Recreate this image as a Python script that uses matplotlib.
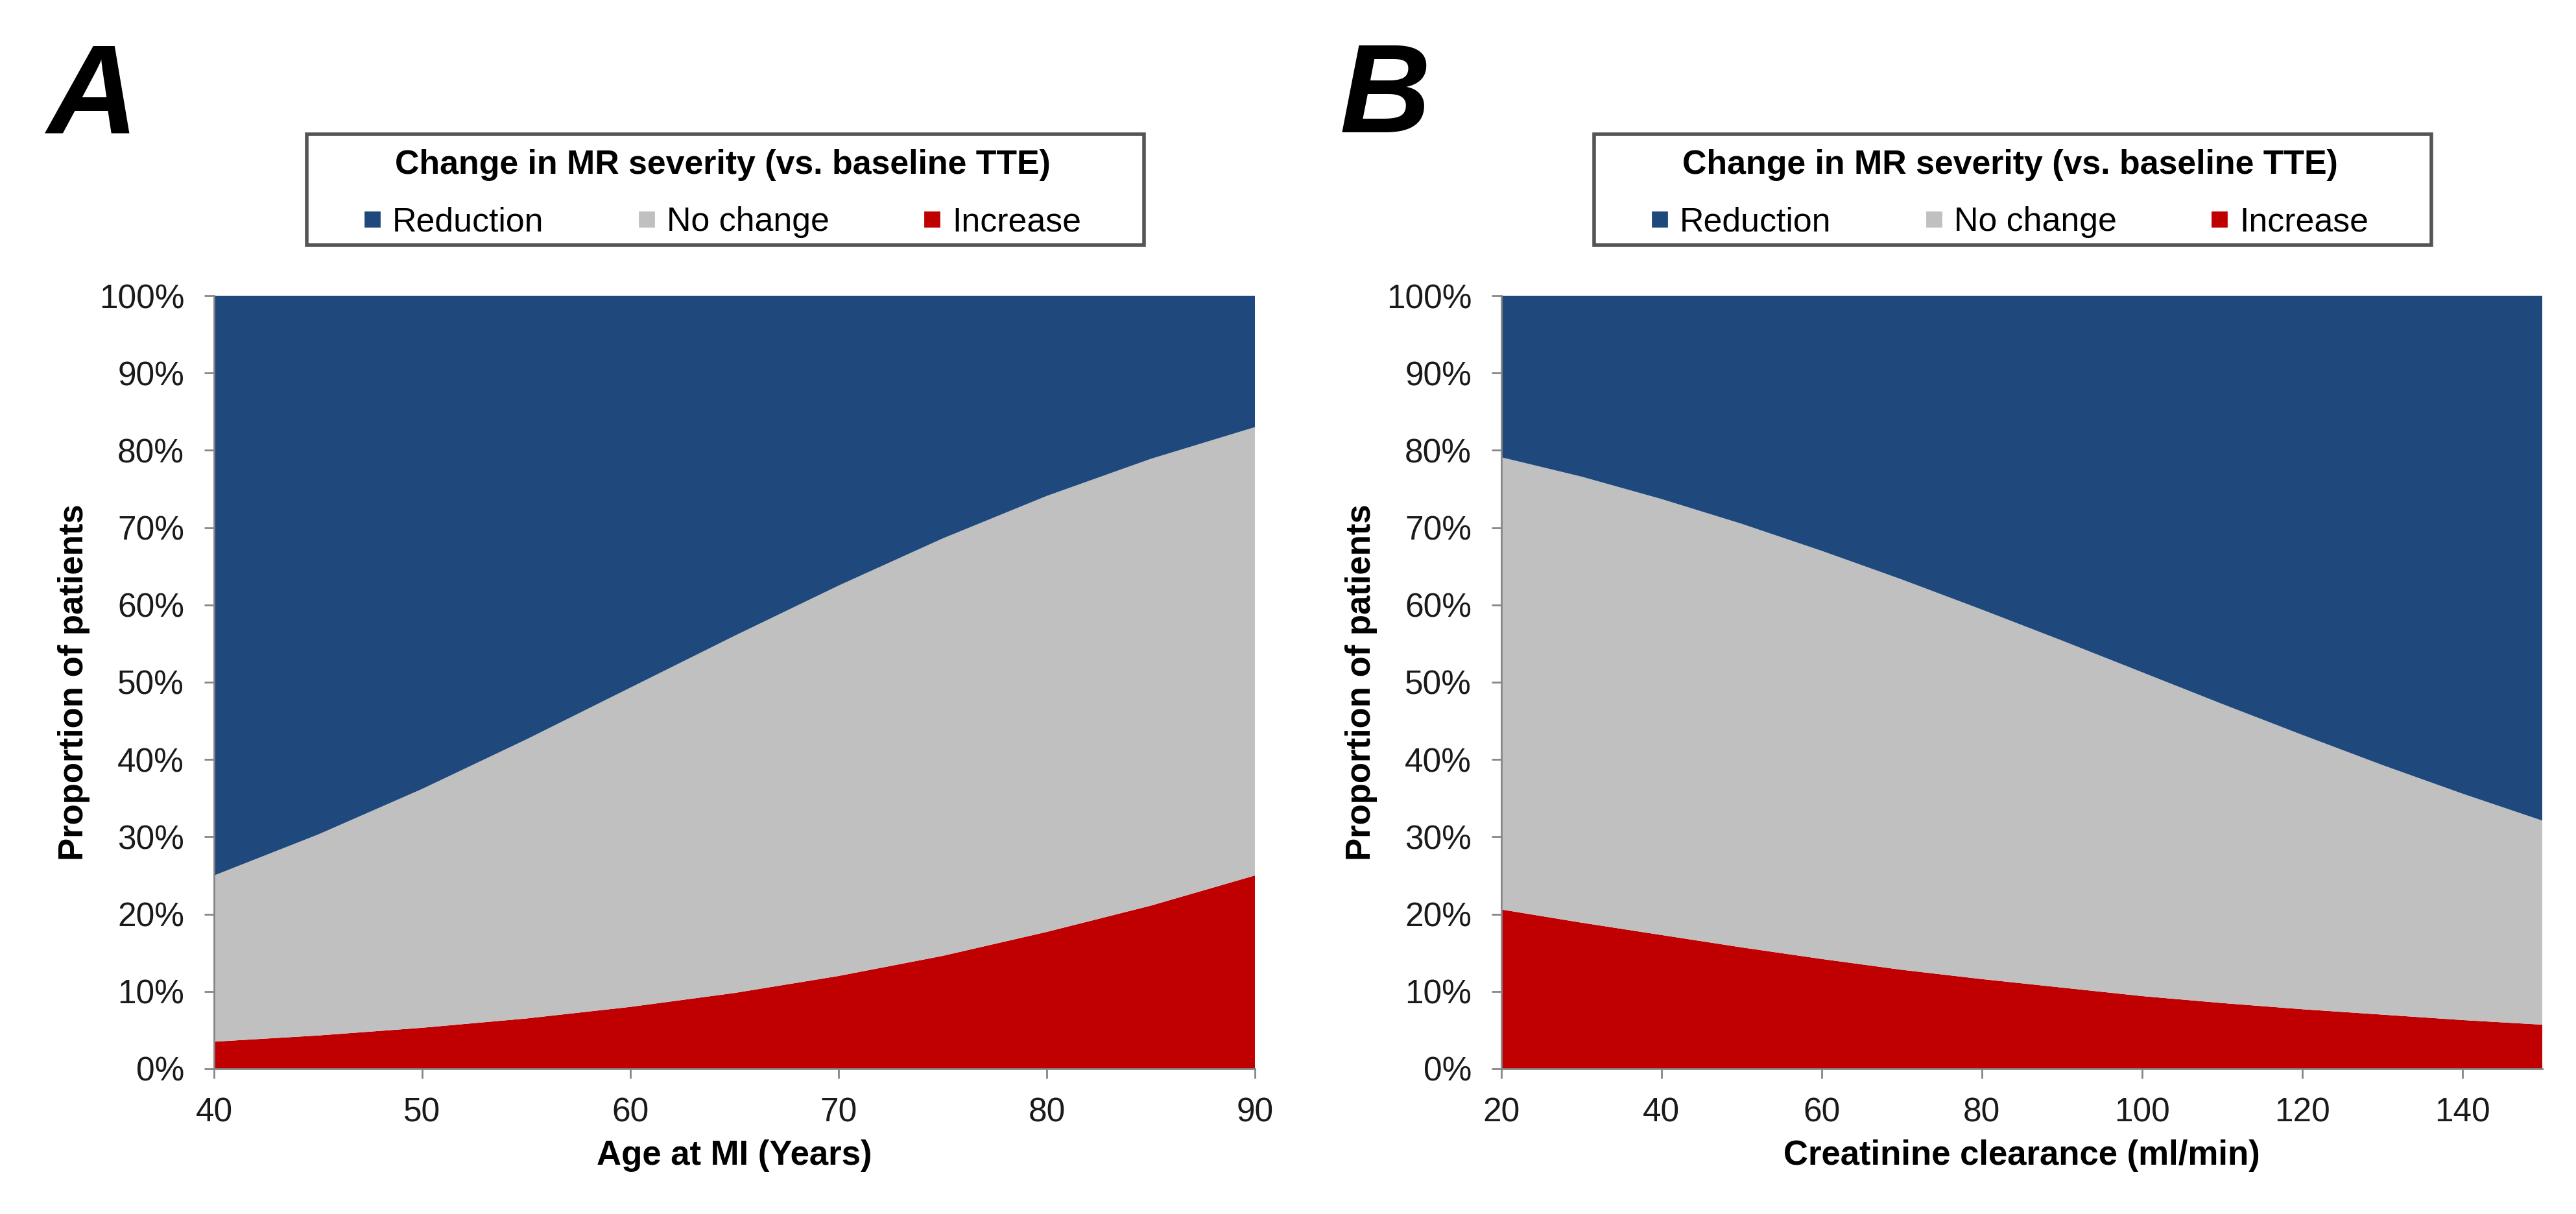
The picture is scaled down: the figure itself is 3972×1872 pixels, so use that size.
import numpy as np
import matplotlib
matplotlib.use('Agg')
import matplotlib.pyplot as plt
from matplotlib.lines import Line2D
from matplotlib.patches import Rectangle
from matplotlib.ticker import FuncFormatter

plt.rcParams['font.family'] = ['Liberation Sans', 'DejaVu Sans']

# Panel A: age at MI (years) vs proportion of patients (%)
age = [40, 45, 50, 55, 60, 65, 70, 75, 80, 85, 90]
increase_a = [3.5, 4.3, 5.3, 6.5, 8.0, 9.8, 12.0, 14.6, 17.7, 21.1, 25.0]
nochange_a = [21.5, 26.0, 30.9, 36.1, 41.3, 46.2, 50.5, 54.0, 56.4, 57.8, 58.0]
reduction_a = [75.0, 69.7, 63.8, 57.4, 50.7, 44.0, 37.5, 31.4, 25.9, 21.1, 17.0]

# Panel B: creatinine clearance (ml/min) vs proportion of patients (%)
crcl = [20, 30, 40, 50, 60, 70, 80, 90, 100, 110, 120, 130, 140, 150]
increase_b = [20.6, 18.9, 17.3, 15.7, 14.2, 12.8, 11.6, 10.5, 9.4, 8.5, 7.7, 7.0, 6.3, 5.7]
nochange_b = [58.5, 57.7, 56.4, 54.8, 52.8, 50.5, 47.8, 44.9, 41.9, 38.7, 35.5, 32.3, 29.3, 26.4]
reduction_b = [20.9, 23.4, 26.3, 29.5, 33.0, 36.7, 40.6, 44.6, 48.7, 52.8, 56.8, 60.7, 64.4, 67.9]

xticks_a = [40, 50, 60, 70, 80, 90]
xticks_b = [20, 40, 60, 80, 100, 120, 140]
yticks = [0, 10, 20, 30, 40, 50, 60, 70, 80, 90, 100]

labels = ['Reduction', 'No change', 'Increase']
colors = {'Reduction': '#1F497D', 'No change': '#C0C0C0', 'Increase': '#C00000'}
legend_title = 'Change in MR severity (vs. baseline TTE)'

fig = plt.figure(figsize=(19.86, 9.36), dpi=200)
ax_a = fig.add_axes([0.08308, 0.11966, 0.40408, 0.63675])
ax_b = fig.add_axes([0.58283, 0.11966, 0.40408, 0.63675])


def draw_panel(ax, x, inc, noch, red, xticks, xlabel, letter, letter_x):
    ax.stackplot(x, inc, noch, red,
                 colors=[colors['Increase'], colors['No change'], colors['Reduction']],
                 linewidth=0)
    ax.set_xlim(x[0], x[-1])
    ax.set_ylim(0, 100)
    ax.set_xticks(xticks)
    ax.set_yticks(yticks)
    ax.yaxis.set_major_formatter(FuncFormatter(lambda v, p: f'{v:.0f}%'))
    for s in ['top', 'right']:
        ax.spines[s].set_visible(False)
    for s in ['left', 'bottom']:
        ax.spines[s].set_color('#868686')
        ax.spines[s].set_linewidth(1.0)
    ax.tick_params(axis='both', direction='out', length=5.5, width=1.0,
                   color='#868686', labelsize=18.5, labelcolor='#1a1a1a')
    ax.tick_params(axis='y', pad=11)
    ax.tick_params(axis='x', pad=10)
    ax.set_xlabel(xlabel, fontsize=19, fontweight='bold', labelpad=6)
    ax.set_ylabel('Proportion of patients', fontsize=19, fontweight='bold', labelpad=5)

    # legend box above the plot
    handles = [Line2D([], [], linestyle='none', marker='s', markersize=8,
                      markerfacecolor=colors[l], markeredgecolor=colors[l], label=l)
               for l in labels]
    ax.legend(handles=handles, ncol=3, loc='center', bbox_to_anchor=(0.4885, 1.132),
              frameon=False, fontsize=18.7, title=legend_title,
              title_fontproperties={'weight': 'bold', 'size': 18.7},
              handlelength=0.5, handletextpad=0.35, columnspacing=2.8,
              labelspacing=0.75, borderaxespad=0)
    rect = Rectangle((0.0891, 1.0654), 0.8044, 0.1435, transform=ax.transAxes,
                     fill=False, edgecolor='#555555', linewidth=2.0, clip_on=False)
    ax.add_patch(rect)

    fig.text(letter_x, 0.891, letter, fontsize=70, fontweight='bold', fontstyle='italic',
             ha='left', va='baseline')


draw_panel(ax_a, age, increase_a, nochange_a, reduction_a, xticks_a,
           'Age at MI (Years)', 'A', 0.0185)
draw_panel(ax_b, crcl, increase_b, nochange_b, reduction_b, xticks_b,
           'Creatinine clearance (ml/min)', 'B', 0.5200)

fig.savefig('out.png', dpi=200)
